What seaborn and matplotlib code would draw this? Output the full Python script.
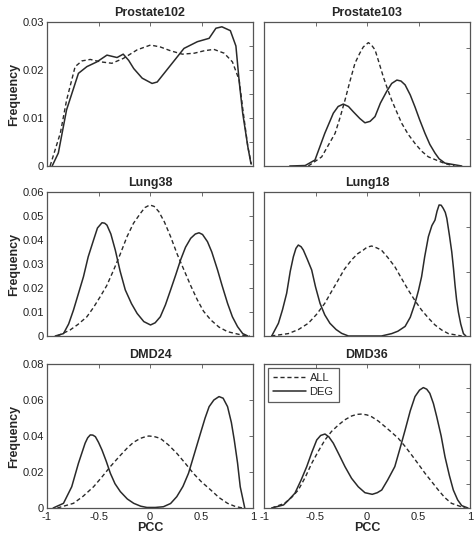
import numpy as np
import matplotlib
matplotlib.use("Agg")
import matplotlib.pyplot as plt
import seaborn as sns

sns.set_style("white")
plt.rcParams["font.family"] = ["Liberation Sans", "DejaVu Sans"]

# Prostate102
p102_all_x = [-0.97, -0.87, -0.81, -0.727, -0.66, -0.58, -0.48, -0.37, -0.26, -0.125, 0.005, 0.1, 0.2,
              0.314, 0.43, 0.525, 0.62, 0.72, 0.8, 0.866, 0.9, 0.95, 0.985]
p102_all_y = [0, 0.0069, 0.0137, 0.0207, 0.0219, 0.0222, 0.0217, 0.0214, 0.0224, 0.0242, 0.0252, 0.0248,
              0.024, 0.0233, 0.0235, 0.024, 0.0243, 0.0235, 0.0217, 0.0179, 0.012, 0.004, 0.0003]
p102_deg_x = [-0.95, -0.89, -0.81, -0.695, -0.613, -0.515, -0.418, -0.32, -0.26, -0.207, -0.158, -0.076,
              0.02, 0.07, 0.2, 0.33, 0.46, 0.574, 0.64, 0.698, 0.78, 0.834, 0.866, 0.9, 0.95, 0.98]
p102_deg_y = [0, 0.0027, 0.0117, 0.0193, 0.0207, 0.0217, 0.0231, 0.0226, 0.0233, 0.022, 0.0203, 0.0183,
              0.0172, 0.0175, 0.021, 0.0245, 0.0259, 0.0266, 0.0287, 0.029, 0.0282, 0.025, 0.0176, 0.011,
              0.004, 0.0005]

# Prostate103
p103_all_x = [-0.57, -0.44, -0.31, -0.26, -0.214, -0.165, -0.117, -0.07, -0.036, 0.013, 0.04, 0.078, 0.11,
              0.158, 0.2, 0.24, 0.29, 0.337, 0.4, 0.466, 0.53, 0.596, 0.757, 0.85]
p103_all_y = [0, 0.0019, 0.0068, 0.0102, 0.0137, 0.0177, 0.0214, 0.0235, 0.0248, 0.0257, 0.0253, 0.0242,
              0.022, 0.0186, 0.016, 0.0137, 0.0112, 0.0089, 0.0066, 0.0047, 0.0031, 0.0019, 0.0005, 0]
p103_deg_x = [-0.75, -0.6, -0.505, -0.41, -0.327, -0.28, -0.23, -0.18, -0.133, -0.07, -0.02, 0.03, 0.078,
              0.13, 0.19, 0.24, 0.29, 0.33, 0.37, 0.42, 0.466, 0.51, 0.563, 0.61, 0.66, 0.7, 0.757, 0.92]
p103_deg_y = [0, 0.0001, 0.00125, 0.0068, 0.011, 0.0124, 0.0129, 0.0124, 0.0113, 0.0099, 0.009, 0.0093,
              0.0103, 0.0131, 0.0155, 0.0172, 0.0179, 0.0177, 0.0169, 0.0148, 0.0123, 0.0097, 0.0068, 0.0045,
              0.0027, 0.0015, 0.0006, 0]

# Lung38
l38_all_x = [-0.9, -0.776, -0.7, -0.613, -0.55, -0.483, -0.42, -0.353, -0.29, -0.223, -0.16, -0.093, -0.05,
             -0.002, 0.04, 0.086, 0.14, 0.2, 0.265, 0.33, 0.395, 0.46, 0.52, 0.59, 0.67, 0.753, 0.9, 0.97]
l38_all_y = [0, 0.0025, 0.0048, 0.008, 0.0118, 0.0164, 0.021, 0.0275, 0.034, 0.0414, 0.047, 0.0511, 0.0535,
             0.0546, 0.054, 0.0518, 0.0475, 0.0414, 0.034, 0.0275, 0.021, 0.015, 0.0103, 0.0067, 0.0037,
             0.0018, 0.0003, 0]
l38_deg_x = [-0.92, -0.84, -0.79, -0.743, -0.646, -0.6, -0.548, -0.51, -0.466, -0.44, -0.418, -0.38, -0.337,
             -0.29, -0.24, -0.18, -0.125, -0.06, 0.005, 0.05, 0.1, 0.15, 0.2, 0.25, 0.297, 0.345, 0.395, 0.44,
             0.476, 0.51, 0.558, 0.6, 0.656, 0.7, 0.753, 0.8, 0.85, 0.9, 0.95]
l38_deg_y = [0, 0.001, 0.005, 0.0108, 0.0247, 0.033, 0.04, 0.045, 0.0472, 0.047, 0.0462, 0.0425, 0.0358,
             0.027, 0.0192, 0.0135, 0.0094, 0.006, 0.0046, 0.0055, 0.008, 0.013, 0.0192, 0.0255, 0.0317, 0.037,
             0.0407, 0.0425, 0.043, 0.0423, 0.0393, 0.035, 0.0275, 0.021, 0.0136, 0.008, 0.0039, 0.001, 0]

# Lung18
l18_all_x = [-0.93, -0.764, -0.665, -0.57, -0.49, -0.41, -0.345, -0.28, -0.22, -0.15, -0.09, -0.036, 0.0,
             0.045, 0.09, 0.14, 0.2, 0.27, 0.335, 0.4, 0.465, 0.53, 0.6, 0.66, 0.725, 0.79, 0.92]
l18_all_y = [0, 0.001, 0.0027, 0.0053, 0.009, 0.0136, 0.0185, 0.0233, 0.0278, 0.0317, 0.0343, 0.0358, 0.037,
             0.0375, 0.0368, 0.0358, 0.0328, 0.0289, 0.024, 0.0192, 0.0148, 0.0108, 0.0073, 0.0046, 0.0025,
             0.001, 0]
l18_deg_x = [-0.925, -0.86, -0.82, -0.78, -0.745, -0.715, -0.69, -0.667, -0.64, -0.618, -0.58, -0.537, -0.5,
             -0.456, -0.41, -0.36, -0.3, -0.246, -0.18, 0.14, 0.24, 0.3, 0.37, 0.42, 0.466, 0.5, 0.53, 0.56,
             0.596, 0.63, 0.66, 0.68, 0.7, 0.72, 0.74, 0.76, 0.775, 0.8, 0.823, 0.84, 0.855, 0.87, 0.887, 0.91,
             0.936, 0.96]
l18_deg_y = [0, 0.0053, 0.011, 0.0178, 0.027, 0.033, 0.0365, 0.0379, 0.0372, 0.0358, 0.032, 0.0275, 0.0205,
             0.0136, 0.0088, 0.0053, 0.0027, 0.0011, 0, 0, 0.001, 0.002, 0.004, 0.0078, 0.0136, 0.019, 0.0247,
             0.033, 0.0414, 0.046, 0.0483, 0.052, 0.0546, 0.0545, 0.0532, 0.0515, 0.049, 0.042, 0.035, 0.028,
             0.021, 0.015, 0.01, 0.005, 0.001, 0]

# DMD24
d24_all_x = [-0.9, -0.743, -0.65, -0.548, -0.47, -0.385, -0.3, -0.223, -0.16, -0.093, -0.05, -0.012, 0.04,
             0.1, 0.18, 0.26, 0.34, 0.42, 0.5, 0.59, 0.67, 0.753, 0.83, 0.9]
d24_all_y = [0, 0.0026, 0.0065, 0.0118, 0.017, 0.023, 0.0285, 0.0332, 0.0365, 0.0387, 0.0395, 0.04, 0.0397,
             0.0387, 0.035, 0.0304, 0.025, 0.0193, 0.0145, 0.01, 0.0058, 0.0026, 0.0008, 0]
d24_deg_x = [-0.94, -0.84, -0.76, -0.695, -0.63, -0.605, -0.58, -0.555, -0.53, -0.5, -0.466, -0.425, -0.385,
             -0.34, -0.288, -0.22, -0.158, -0.09, -0.03, 0.05, 0.13, 0.2, 0.26, 0.32, 0.374, 0.43, 0.49, 0.535,
             0.574, 0.62, 0.67, 0.71, 0.753, 0.79, 0.818, 0.85, 0.876, 0.92]
d24_deg_y = [0, 0.0026, 0.0118, 0.0248, 0.036, 0.039, 0.0406, 0.0405, 0.0396, 0.0365, 0.0322, 0.026, 0.0193,
             0.0135, 0.0091, 0.005, 0.0026, 0.001, 0.0003, 0.0003, 0.0007, 0.0025, 0.0063, 0.012, 0.0193, 0.03,
             0.0415, 0.05, 0.0563, 0.06, 0.0619, 0.061, 0.0563, 0.0475, 0.0378, 0.025, 0.0118, 0]

# DMD36
d36_all_x = [-0.925, -0.8, -0.73, -0.667, -0.6, -0.537, -0.47, -0.408, -0.345, -0.28, -0.215, -0.15, -0.1,
             -0.05, 0.0, 0.045, 0.11, 0.175, 0.24, 0.304, 0.37, 0.434, 0.5, 0.563, 0.63, 0.692, 0.755, 0.82,
             0.95]
d36_all_y = [0, 0.0026, 0.006, 0.01, 0.017, 0.0248, 0.0318, 0.0378, 0.0425, 0.046, 0.049, 0.0511, 0.052,
             0.0522, 0.0517, 0.0507, 0.0483, 0.0452, 0.042, 0.0387, 0.0342, 0.0294, 0.0243, 0.0193, 0.0145,
             0.01, 0.0058, 0.0026, 0]
d36_deg_x = [-0.925, -0.81, -0.76, -0.7, -0.64, -0.585, -0.535, -0.488, -0.45, -0.408, -0.37, -0.327, -0.27,
             -0.214, -0.15, -0.085, -0.02, 0.051, 0.1, 0.143, 0.2, 0.27, 0.32, 0.37, 0.42, 0.466, 0.51, 0.547,
             0.58, 0.61, 0.645, 0.677, 0.72, 0.757, 0.8, 0.838, 0.88, 0.92, 0.98]
d36_deg_y = [0, 0.0017, 0.0045, 0.0082, 0.0155, 0.023, 0.031, 0.0378, 0.0403, 0.0411, 0.0395, 0.036, 0.0295,
             0.023, 0.0165, 0.0118, 0.0085, 0.0076, 0.0085, 0.01, 0.0155, 0.023, 0.033, 0.0433, 0.054, 0.0619,
             0.0655, 0.0669, 0.066, 0.0637, 0.058, 0.0507, 0.04, 0.0285, 0.018, 0.01, 0.0045, 0.0013, 0]

titles = ["Prostate102", "Prostate103", "Lung38", "Lung18", "DMD24", "DMD36"]
series = [
    (p102_all_x, p102_all_y, p102_deg_x, p102_deg_y),
    (p103_all_x, p103_all_y, p103_deg_x, p103_deg_y),
    (l38_all_x, l38_all_y, l38_deg_x, l38_deg_y),
    (l18_all_x, l18_all_y, l18_deg_x, l18_deg_y),
    (d24_all_x, d24_all_y, d24_deg_x, d24_deg_y),
    (d36_all_x, d36_all_y, d36_deg_x, d36_deg_y),
]
row_ymax = [0.03, 0.06, 0.08]
left_ticks = [[0, 0.01, 0.02, 0.03], [0, 0.01, 0.02, 0.03, 0.04, 0.05, 0.06], [0, 0.02, 0.04, 0.06, 0.08]]
left_minor = [[0.005, 0.015, 0.025], [], []]
left_labels = [["0", "0.01", "0.02", "0.03"],
               ["0", "0.01", "0.02", "0.03", "0.04", "0.05", "0.06"],
               ["0", "0.02", "0.04", "0.06", "0.08"]]
right_ticks = [[0.0057, 0.0153, 0.0246], [0.008, 0.0267, 0.0456],
               [0.0133, 0.0267, 0.04, 0.0533, 0.0667]]
x_ticks = [-1, -0.5, 0, 0.5, 1]
x_labels = ["-1", "-0.5", "0", "0.5", "1"]

line_c = "#2a2a2a"
spine_c = "#555555"

fig = plt.figure(figsize=(4.75, 5.4), dpi=100)
lefts = [47 / 475, 264 / 475]
w = 206 / 475
h = 144 / 540
bottoms = [1 - 166 / 540, 1 - 336 / 540, 1 - 508 / 540]

for i, (title, (ax_, ay_, dx_, dy_)) in enumerate(zip(titles, series)):
    r, c = divmod(i, 2)
    ax = fig.add_axes([lefts[c], bottoms[r], w, h])
    sns.lineplot(x=ax_, y=ay_, ax=ax, color=line_c, lw=1.0, linestyle=(0, (3, 2)),
                 label="ALL", sort=False)
    sns.lineplot(x=dx_, y=dy_, ax=ax, color=line_c, lw=1.1, label="DEG", sort=False)
    ax.set_xlim(-1, 1)
    ax.set_ylim(0, row_ymax[r])
    ax.set_title(title, fontsize=9, fontweight="bold", pad=4)
    ax.set_xticks(x_ticks)
    if r == 2:
        ax.set_xticklabels(x_labels)
        ax.set_xlabel("PCC", fontsize=9, fontweight="bold", labelpad=0)
    else:
        ax.set_xticklabels([])
        ax.set_xlabel("")
    if c == 0:
        ax.set_yticks(left_ticks[r])
        ax.set_yticklabels(left_labels[r])
        ax.set_yticks(left_minor[r], minor=True)
        ax.set_ylabel("Frequency", fontsize=9, fontweight="bold", labelpad=2)
    else:
        ax.set_yticks(right_ticks[r])
        ax.set_yticklabels([])
        ax.set_ylabel("")
    ax.tick_params(axis="both", which="both", direction="in", length=3, width=0.6,
                   top=True, right=True, colors=spine_c, labelcolor="#222222", labelsize=8, pad=2)
    ax.tick_params(axis="x", pad=3)
    for s in ax.spines.values():
        s.set_color(spine_c)
        s.set_linewidth(0.9)
    if i == 5:
        leg = ax.legend(loc="upper left", fontsize=8, frameon=True, fancybox=False,
                        handlelength=3.0, borderpad=0.45, labelspacing=0.35, handletextpad=0.3,
                        borderaxespad=0.35)
        leg.get_frame().set_edgecolor("#333333")
        leg.get_frame().set_linewidth(0.9)
    else:
        ax.get_legend().remove()

fig.savefig("out.png", dpi=100)
